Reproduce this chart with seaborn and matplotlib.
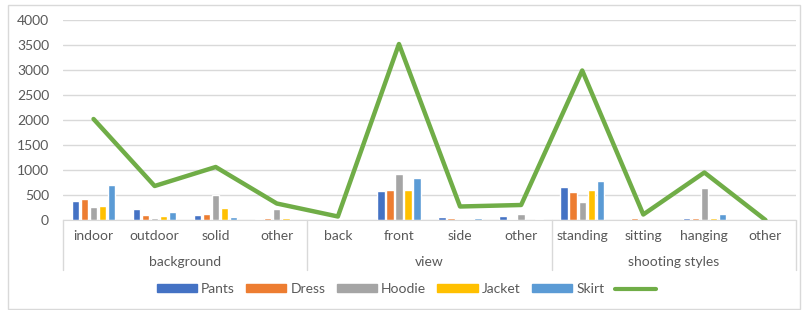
import numpy as np
import pandas as pd
import seaborn as sns
import matplotlib.pyplot as plt
from matplotlib.lines import Line2D
from matplotlib.patches import Rectangle

# categories (12 slots in 3 groups)
categories = ['indoor', 'outdoor', 'solid', 'other',
              'back', 'front', 'side', 'other',
              'standing', 'sitting', 'hanging', 'other']
groups = ['background', 'view', 'shooting styles']
garments = ['Pants', 'Dress', 'Hoodie', 'Jacket', 'Skirt']

pants = [377, 219, 96, 27, 0, 575, 55, 75, 658, 0, 41, 0]
dress = [418, 110, 123, 41, 0, 610, 48, 27, 569, 48, 41, 0]
hoodie = [260, 48, 507, 219, 15, 918, 20, 116, 363, 0, 644, 0]
jacket = [288, 82, 247, 34, 0, 610, 27, 0, 603, 0, 41, 0]
skirt = [692, 164, 68, 5, 0, 843, 41, 20, 788, 0, 116, 0]
total = [2020, 680, 1060, 330, 70, 3520, 270, 300, 2990, 110, 950, 0]

colors = ['#4472C4', '#ED7D31', '#A5A5A5', '#FFC000', '#5B9BD5']
line_color = '#70AD47'
text_color = '#595959'

rows = []
for name, vals in zip(garments, [pants, dress, hoodie, jacket, skirt]):
    for i, v in enumerate(vals):
        rows.append({'pos': i, 'garment': name, 'value': v})
df = pd.DataFrame(rows)
line_df = pd.DataFrame({'pos': np.arange(len(categories)), 'total': total})

sns.set_style('white')
plt.rcParams['font.family'] = ['Lato', 'DejaVu Sans']

fig = plt.figure(figsize=(8.04, 3.10), dpi=100)
ax = fig.add_axes([63 / 804, 90 / 310, 733 / 804, 200 / 310])

sns.barplot(data=df, x='pos', y='value', hue='garment', palette=colors,
            width=0.74, gap=0.18, ax=ax, legend=False, saturation=1)
sns.lineplot(data=line_df, x='pos', y='total', color=line_color, lw=3.2,
             ax=ax, legend=False)

ax.set_xlim(-0.5, len(categories) - 0.5)
ax.set_ylim(0, 4000)
ax.set_yticks(range(0, 4001, 500))
ax.grid(axis='y', color='#D9D9D9', lw=1)
ax.set_axisbelow(True)
for s in ['top', 'right', 'left']:
    ax.spines[s].set_visible(False)
ax.spines['bottom'].set_color('#D9D9D9')
ax.set_xlabel('')
ax.set_ylabel('')
ax.set_xticks(range(len(categories)))
ax.set_xticklabels(categories)
ax.tick_params(axis='x', length=0, pad=7, labelsize=10, labelcolor=text_color)
ax.tick_params(axis='y', length=0, pad=10, labelsize=10, labelcolor=text_color)

# group labels and separators
bounds = [-0.5, 3.5, 7.5, 11.5]
for b in bounds:
    ax.add_line(Line2D([b, b], [0, -0.25], color='#D9D9D9', lw=1,
                       transform=ax.get_xaxis_transform(), clip_on=False))
for g, (a, b) in zip(groups, zip(bounds[:-1], bounds[1:])):
    ax.text((a + b) / 2, -0.21, g, ha='center', va='center', fontsize=10,
            color=text_color, transform=ax.get_xaxis_transform())

handles = [Rectangle((0, 0), 1, 1, color=c) for c in colors]
handles.append(Line2D([], [], color=line_color, lw=3))
fig.legend(handles, garments + [' '], loc='center', bbox_to_anchor=(0.51, 21 / 310),
           ncol=6, frameon=False, fontsize=10, labelcolor=text_color,
           handlelength=2.9, handleheight=0.5, columnspacing=0.8, handletextpad=0.3)

fig.patches.append(Rectangle((8 / 804, 1 / 310), 792 / 804, 304 / 310, fill=False,
                             edgecolor='#D9D9D9', lw=1, transform=fig.transFigure))

fig.savefig('out.png', dpi=100)
